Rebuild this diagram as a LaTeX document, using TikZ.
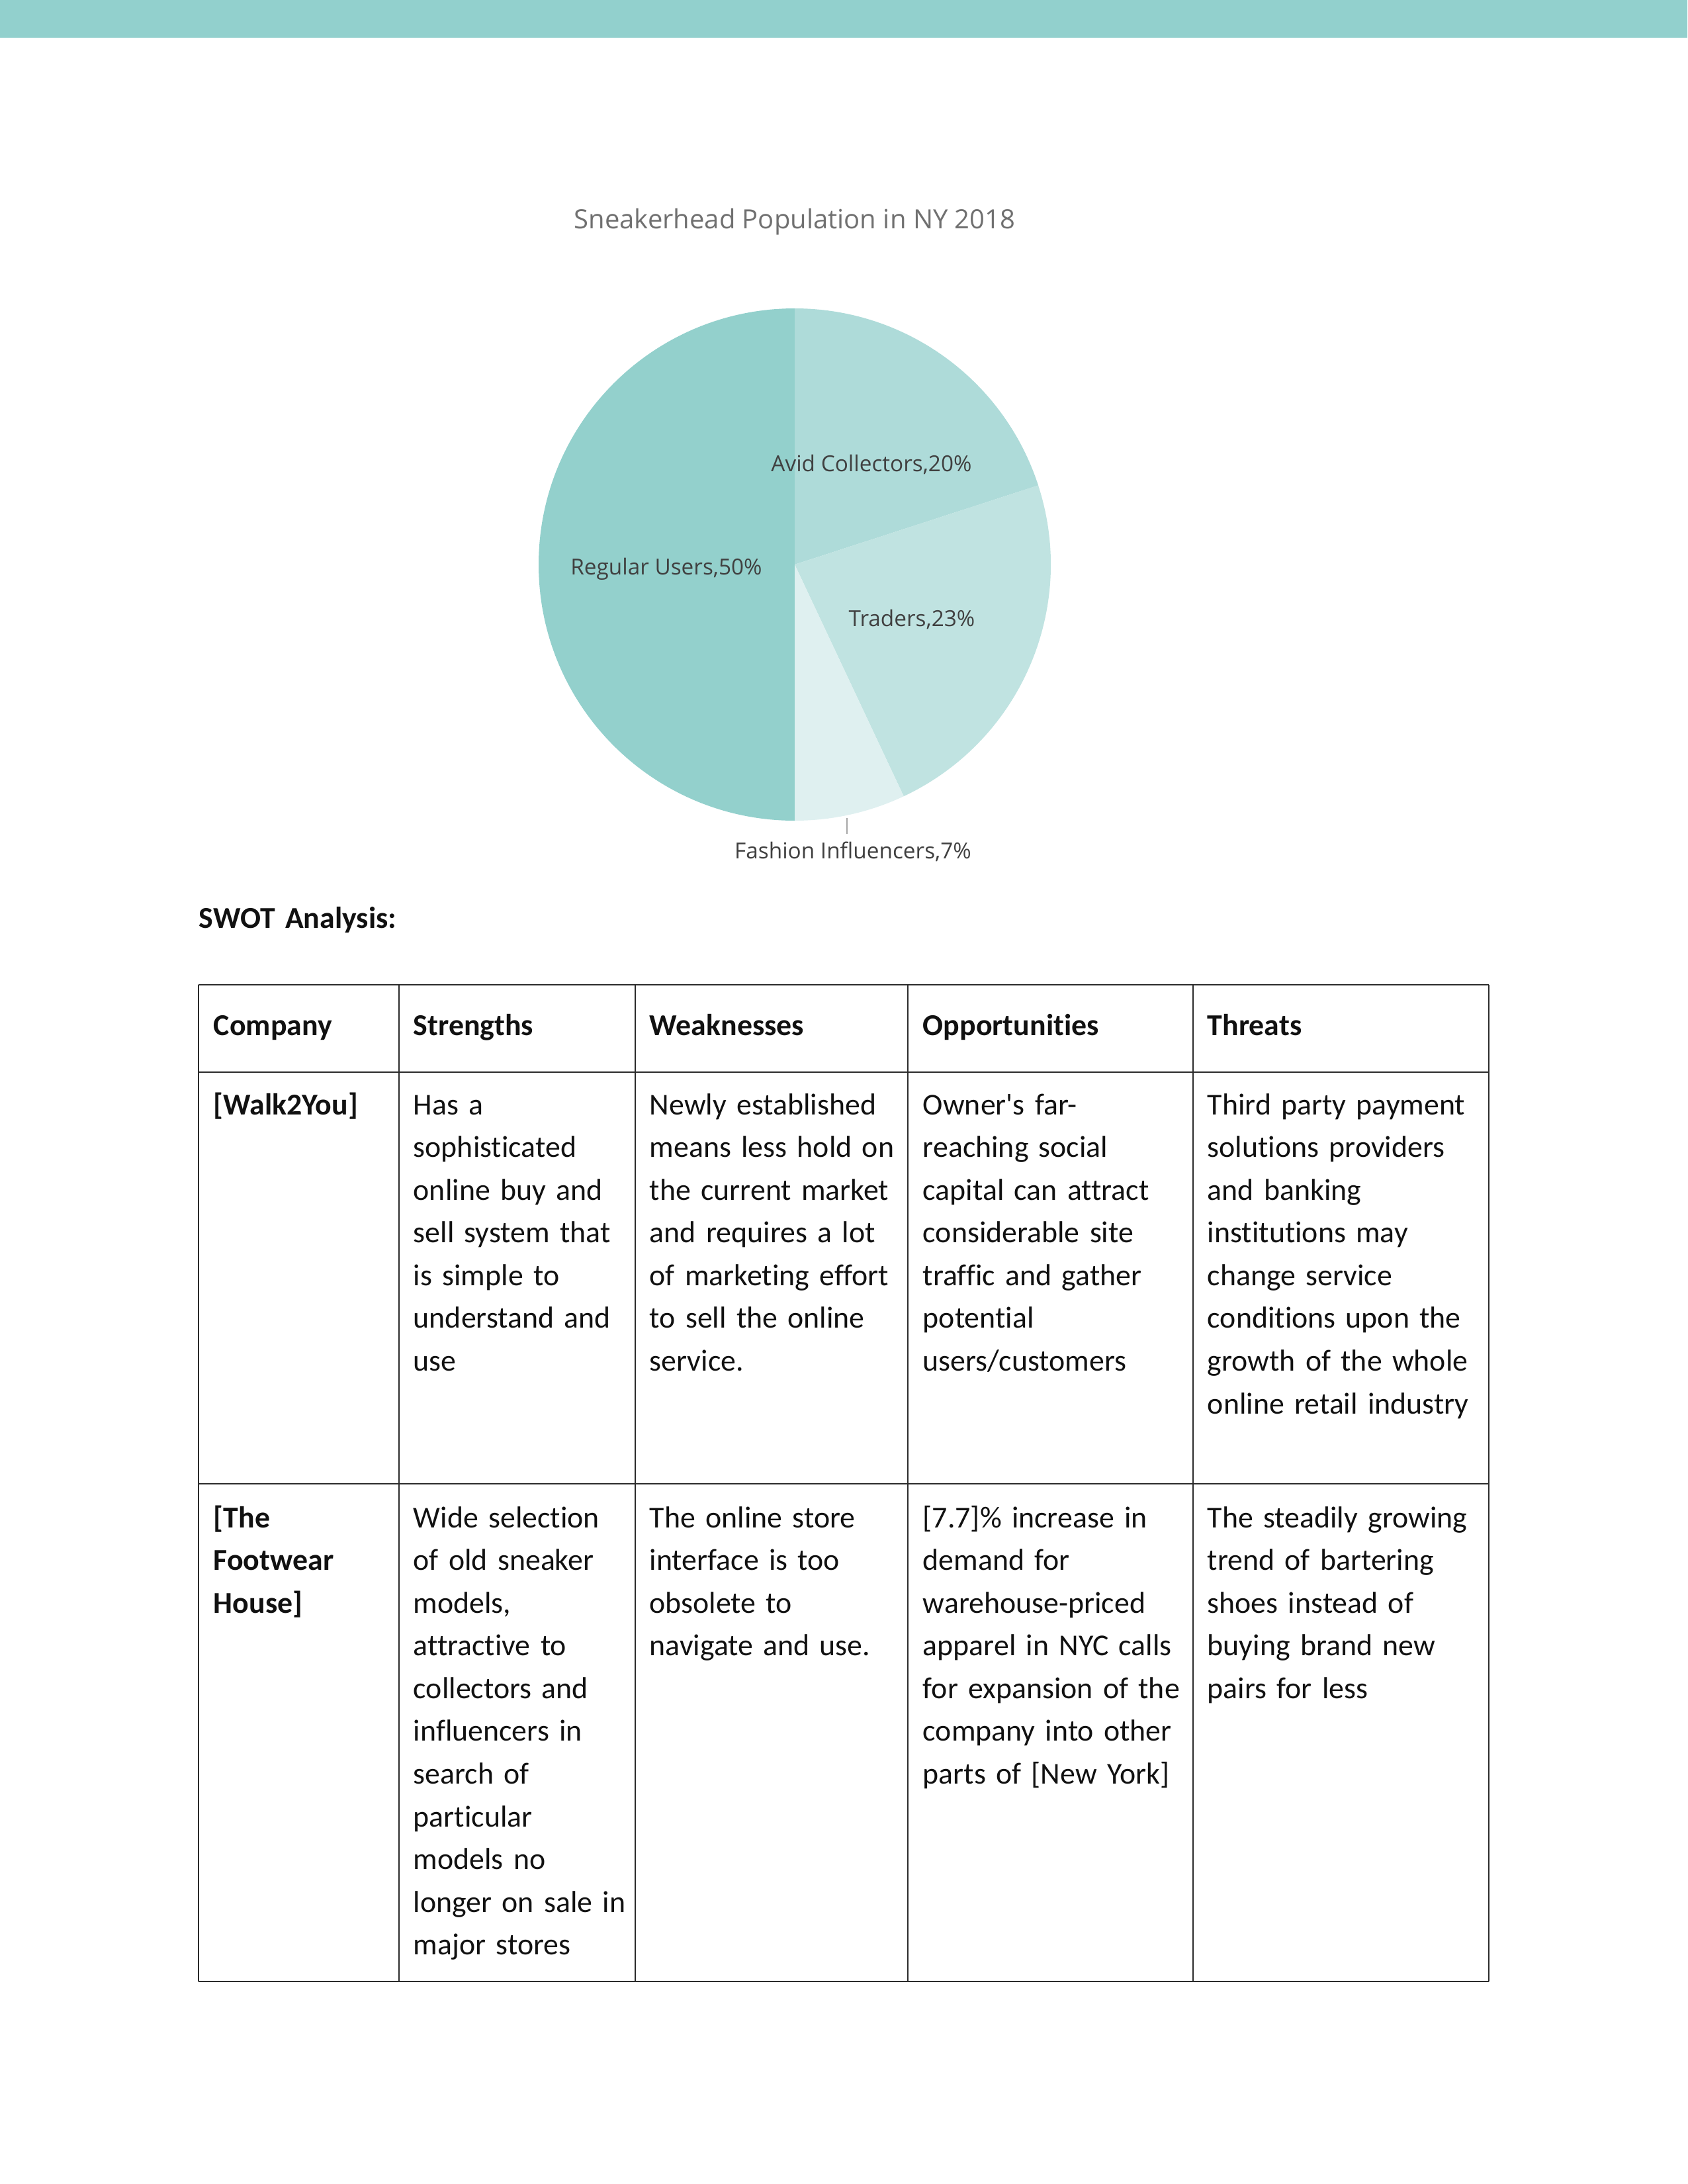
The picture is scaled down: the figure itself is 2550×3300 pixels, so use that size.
\documentclass[tikz,border=0pt]{standalone}
\usepackage{fontspec}
\setmainfont{Carlito}[Ligatures={NoCommon}]
\newfontfamily\chartfont{Open Sans}
\definecolor{topbar}{HTML}{92D0CD}
\definecolor{cRegular}{HTML}{93D0CC}
\definecolor{cAvid}{HTML}{AEDBD9}
\definecolor{cTraders}{HTML}{C0E3E1}
\definecolor{cFashion}{HTML}{DFF0F0}
\definecolor{titlegray}{HTML}{707070}
\definecolor{labelgray}{HTML}{404040}
\definecolor{leader}{HTML}{A6A6A6}
\definecolor{rule}{HTML}{2B2B2B}
\definecolor{bodytext}{HTML}{111111}
\tikzset{
  charttitle/.style={font=\chartfont\fontsize{9.6pt}{11pt}\selectfont, text=titlegray, inner sep=0pt, anchor=base},
  slicelabel/.style={font=\chartfont\fontsize{8pt}{10pt}\selectfont, text=labelgray, inner sep=0pt, anchor=base},
  bodycell/.style={font=\fontsize{11pt}{15.5pt}\selectfont, text=bodytext, inner sep=0pt, anchor=base west, align=left, text width=110pt},
  headcell/.style={bodycell, font=\bfseries\fontsize{11pt}{15.5pt}\selectfont},
  gridline/.style={draw=rule, line width=0.55pt}
}
\begin{document}
\begin{tikzpicture}[x=0.24pt,y=-0.24pt]
\useasboundingbox (0,0) rectangle (2550,3300);
% top band
\fill[topbar] (0,0) rectangle (2550,57);

% pie chart
\def\R{92.88pt}
\coordinate (pc) at (1201,853);
\fill[cRegular] (pc) -- ++(90:\R) arc[start angle=90, end angle=270, radius=\R] -- cycle;
\fill[cAvid] (pc) -- ++(90:\R) arc[start angle=90, end angle=18, radius=\R] -- cycle;
\fill[cTraders] (pc) -- ++(18:\R) arc[start angle=18, end angle=-64.8, radius=\R] -- cycle;
\fill[cFashion] (pc) -- ++(-64.8:\R) arc[start angle=-64.8, end angle=-90, radius=\R] -- cycle;

\node[charttitle] (title) at (1201,345) {Sneakerhead Population in NY 2018};
\node[slicelabel] (lavid) at (1317,712) {Avid Collectors,20\%};
\node[slicelabel] (lreg) at (1007,868) {Regular Users,50\%};
\node[slicelabel] (ltrad) at (1378,946) {Traders,23\%};
\node[slicelabel] (lfash) at (1289,1297) {Fashion Influencers,7\%};
\coordinate (leadtop) at (1280,1236);
\coordinate (leadbot) at (1280,1260);
\draw[leader, line width=0.5pt] (leadtop) -- (leadbot);

% heading
\node[headcell, text width=200pt] (swot) at (300,1402) {SWOT Analysis:};

% table grid
\foreach \yy in {1488,1620,2242,2994} \draw[gridline] (300,\yy) -- (2250,\yy);
\foreach \xx in {300,603,960,1372,1803,2250} \draw[gridline] (\xx,1488) -- (\xx,2994);

% header row
\node[headcell] (hcomp) at (322,1564) {Company};
\node[headcell] (hstr) at (624,1564) {Strengths};
\node[headcell] (hweak) at (981,1564) {Weaknesses};
\node[headcell] (hopp) at (1394,1564) {Opportunities};
\node[headcell] (hthr) at (1824,1564) {Threats};

% row 1
\node[headcell] (c1) at (322,1684) {{[}Walk2You{]}};
\node[bodycell] (s1) at (624,1684) {Has a\\sophisticated\\online buy and\\sell system that\\is simple to\\understand and\\use};
\node[bodycell] (w1) at (981,1684) {Newly established\\means less hold on\\the current market\\and requires a lot\\of marketing effort\\to sell the online\\service.};
\node[bodycell] (o1) at (1394,1684) {Owner\textquotesingle s far-\\reaching social\\capital can attract\\considerable site\\traffic and gather\\potential\\users/customers};
\node[bodycell] (t1) at (1824,1684) {Third party payment\\solutions providers\\and banking\\institutions may\\change service\\conditions upon the\\growth of the whole\\online retail industry};

% row 2
\node[headcell] (c2) at (322,2308) {{[}The\\Footwear\\House{]}};
\node[bodycell] (s2) at (624,2308) {Wide selection\\of old sneaker\\models,\\attractive to\\collectors and\\influencers in\\search of\\particular\\models no\\longer on sale in\\major stores};
\node[bodycell] (w2) at (981,2308) {The online store\\interface is too\\obsolete to\\navigate and use.};
\node[bodycell] (o2) at (1394,2308) {{[}7.7{]}\% increase in\\demand for\\warehouse-priced\\apparel in NYC calls\\for expansion of the\\company into other\\parts of {[}New York{]}};
\node[bodycell] (t2) at (1824,2308) {The steadily growing\\trend of bartering\\shoes instead of\\buying brand new\\pairs for less};
\end{tikzpicture}
\end{document}
